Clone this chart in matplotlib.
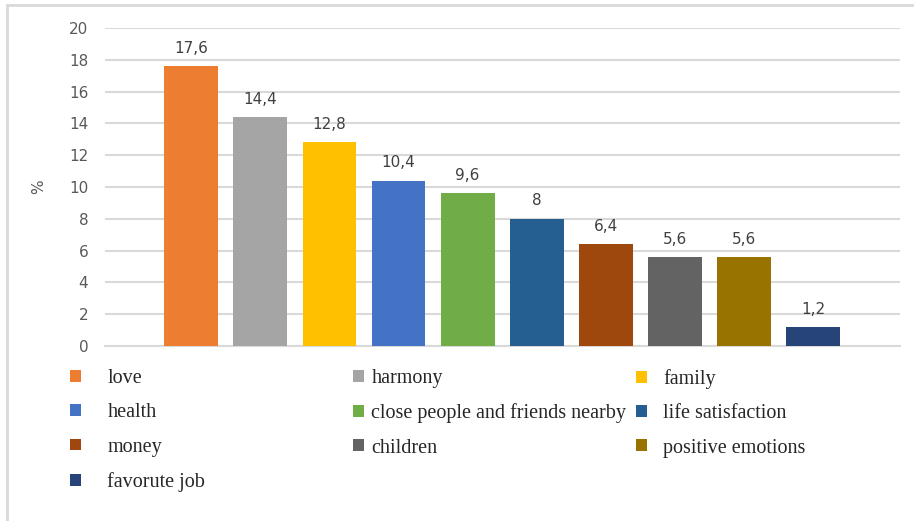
import matplotlib.pyplot as plt
from matplotlib.patches import Patch, Rectangle

# valores
categorias = ["love", "harmony", "family", "health", "close people and friends nearby",
              "life satisfaction", "money", "children", "positive emotions", "favorute job"]
porcentajes = [17.6, 14.4, 12.8, 10.4, 9.6, 8, 6.4, 5.6, 5.6, 1.2]
colores = ["#ED7D31", "#A5A5A5", "#FFC000", "#4472C4", "#70AD47",
           "#255E91", "#9E480E", "#636363", "#997300", "#264478"]
marcas_y = [0, 2, 4, 6, 8, 10, 12, 14, 16, 18, 20]


def etiqueta(v):
    s = ("%.1f" % v).rstrip("0").rstrip(".")
    return s.replace(".", ",")


fig = plt.figure(figsize=(9.14, 5.21), dpi=100)
ax = fig.add_axes([105 / 914, 1 - 346 / 521, 795 / 914, 318 / 521])

x = list(range(len(porcentajes)))
barras = ax.bar(x, porcentajes, width=0.78, color=colores, zorder=3)

for xi, v in zip(x, porcentajes):
    ax.annotate(etiqueta(v), (xi, v), xytext=(0, 7.5), textcoords="offset points",
                ha="center", va="bottom", fontsize=11, color="#404040")

ax.set_xlim(-1.25, len(porcentajes) - 1 + 1.26)
ax.set_ylim(0, 20)
ax.set_yticks(marcas_y)
ax.set_xticks([])
ax.tick_params(axis="y", length=0, pad=12, labelsize=11, labelcolor="#595959")
ax.yaxis.grid(True, color="#D9D9D9", linewidth=1.5, zorder=0)
for s in ["top", "right", "left"]:
    ax.spines[s].set_visible(False)
ax.spines["bottom"].set_color("#D9D9D9")
ax.spines["bottom"].set_linewidth(1.5)

ax.set_ylabel("%", fontsize=11, color="#595959")
ax.yaxis.set_label_coords(-0.074, 0.5)

# leyenda en tres columnas (espaciado distinto en cada una, como el original)
columnas = [[0, 3, 6, 9], [1, 4, 7], [2, 5, 8]]
pos_x = [70 / 914, 353 / 914, 636 / 914]
separacion = [1.33, 0.38, 0.82]
for col, px, sep in zip(columnas, pos_x, separacion):
    manejadores = [Patch(facecolor=colores[i], edgecolor="none") for i in col]
    ley = fig.legend(manejadores, [categorias[i] for i in col], loc="upper left",
                     bbox_to_anchor=(px, 1 - 369 / 521), frameon=False,
                     prop={"family": "Liberation Serif", "size": 14.5},
                     labelcolor="#262626",
                     handlelength=0.53, handleheight=0.53, handletextpad=sep,
                     labelspacing=0.76, borderpad=0, borderaxespad=0)

# marco gris
fig.patches.append(Rectangle((7 / 914, -0.1), 1.2, 1.1 - 5 / 521, transform=fig.transFigure,
                             fill=False, edgecolor="#D9D9D9", linewidth=2))

fig.savefig("out.png", dpi=100)
